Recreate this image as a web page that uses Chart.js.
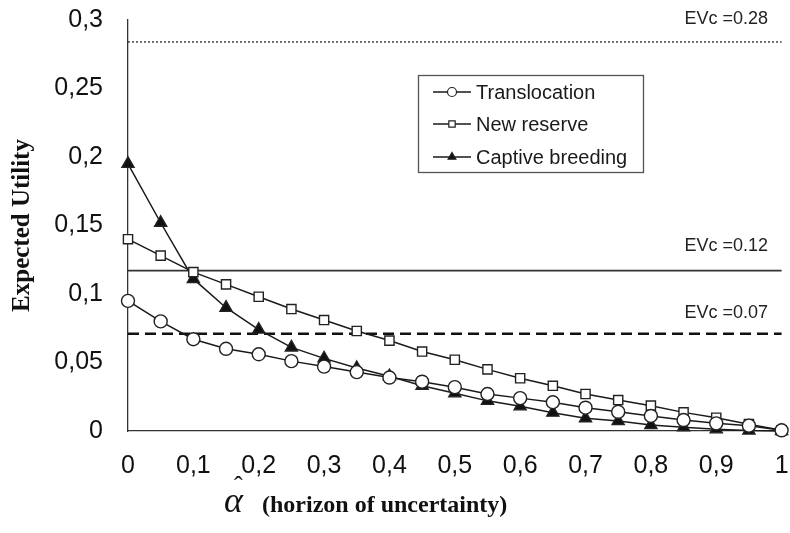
<!DOCTYPE html>
<html>
<head>
<meta charset="utf-8">
<script src="https://cdn.jsdelivr.net/npm/chart.js@4/dist/chart.umd.min.js"></script>
<style>
  html, body { margin: 0; padding: 0; background: #fff; }
  #wrap { width: 790px; height: 533px; }
</style>
</head>
<body>
<div id="wrap"><canvas id="chart" width="790" height="533"></canvas></div>
<script>
// horizon of uncertainty (x)
const alphaValues = [0, 0.05, 0.1, 0.15, 0.2, 0.25, 0.3, 0.35, 0.4, 0.45, 0.5,
                     0.55, 0.6, 0.65, 0.7, 0.75, 0.8, 0.85, 0.9, 0.95, 1];

// expected utility for each action
const translocation   = [0.095, 0.080, 0.067, 0.060, 0.056, 0.051, 0.047, 0.043, 0.039, 0.036, 0.032,
                         0.027, 0.024, 0.021, 0.017, 0.014, 0.011, 0.008, 0.0056, 0.0039, 0.0005];
const newReserve      = [0.140, 0.128, 0.116, 0.107, 0.098, 0.089, 0.081, 0.073, 0.066, 0.058, 0.052,
                         0.045, 0.0385, 0.033, 0.027, 0.0226, 0.0185, 0.0136, 0.0097, 0.005, 0.0005];
const captiveBreeding = [0.195, 0.152, 0.111, 0.090, 0.074, 0.061, 0.053, 0.046, 0.040, 0.033, 0.0275,
                         0.022, 0.018, 0.0134, 0.0093, 0.0073, 0.0044, 0.0027, 0.0012, 0.0003, 0];

// EVc threshold lines
const evcValues = [0.284, 0.117, 0.071];
const evcLabels = ['EVc =0.28', 'EVc =0.12', 'EVc =0.07'];

const seriesNames = ['Translocation', 'New reserve', 'Captive breeding'];

const lineColor = '#1a1a1a';
const toPoints = (arr) => arr.map((v, i) => ({ x: alphaValues[i], y: v }));
const comma = (v) => String(Math.round(v * 100) / 100).replace('.', ',');

// series datasets
const seriesSets = [
  { label: seriesNames[0], data: toPoints(translocation), pointStyle: 'circle', pointRadius: 6.5,
    pointBackgroundColor: '#fff' },
  { label: seriesNames[1], data: toPoints(newReserve), pointStyle: 'rect', pointRadius: 6.5,
    pointBackgroundColor: '#fff' },
  { label: seriesNames[2], data: toPoints(captiveBreeding), pointStyle: 'triangle', pointRadius: 7,
    pointBackgroundColor: '#111' }
].map(d => Object.assign({
  borderColor: lineColor, borderWidth: 1.5, pointBorderColor: '#222', pointBorderWidth: 1.4,
  clip: false, order: 1
}, d));

// threshold datasets (dotted / solid / dashed)
const evcStyles = [
  { borderDash: [2, 2], borderWidth: 1.5, borderColor: '#444' },
  { borderDash: [], borderWidth: 1.8, borderColor: '#333' },
  { borderDash: [11, 6], borderWidth: 2.5, borderColor: '#111' }
];
const evcSets = evcValues.map((v, i) => Object.assign({
  label: evcLabels[i],
  data: [{ x: 0, y: v }, { x: 1, y: v }],
  pointRadius: 0, clip: false, order: 2
}, evcStyles[i]));

// texts drawn on top: EVc labels, legend box, x title
const overlay = {
  id: 'overlay',
  afterDraw(chart) {
    const ctx = chart.ctx;
    const ys = chart.scales.y;
    ctx.save();

    // EVc labels
    ctx.fillStyle = '#222';
    ctx.font = '18px "Liberation Sans", Arial, sans-serif';
    ctx.textAlign = 'right';
    ctx.textBaseline = 'middle';
    const labelOffset = [-23, -25, -21];
    evcValues.forEach((v, i) => {
      ctx.fillText(evcLabels[i], 768, ys.getPixelForValue(v) + labelOffset[i]);
    });

    // legend
    ctx.strokeStyle = '#555';
    ctx.lineWidth = 1.3;
    ctx.strokeRect(418.5, 75.5, 225, 97);
    const rowY = [92, 124, 157];
    seriesSets.forEach((ds, i) => {
      ctx.strokeStyle = lineColor;
      ctx.lineWidth = 1.5;
      ctx.beginPath();
      ctx.moveTo(433, rowY[i]);
      ctx.lineTo(471, rowY[i]);
      ctx.stroke();
      ctx.fillStyle = ds.pointBackgroundColor;
      ctx.strokeStyle = '#222';
      ctx.lineWidth = 1.2;
      Chart.helpers.drawPoint(ctx, { pointStyle: ds.pointStyle, radius: 4.5, rotation: 0, borderWidth: 1.2 },
        452, rowY[i]);
      ctx.fillStyle = '#1a1a1a';
      ctx.font = '20px "Liberation Sans", Arial, sans-serif';
      ctx.textAlign = 'left';
      ctx.fillText(ds.label, 476, rowY[i] + 1);
    });

    // x axis title: alpha hat + text
    ctx.fillStyle = '#111';
    ctx.textAlign = 'left';
    ctx.textBaseline = 'alphabetic';
    ctx.font = 'italic 36px "Liberation Serif", "DejaVu Serif", serif';
    ctx.fillText('α', 224, 512);
    ctx.font = '26px "Liberation Serif", serif';
    ctx.fillText('ˆ', 234, 494);
    ctx.font = 'bold 24px "Liberation Serif", "DejaVu Serif", serif';
    ctx.fillText('(horizon of uncertainty)', 262, 512);
    ctx.restore();
  }
};

const config = {
  type: 'line',
  data: { datasets: [...seriesSets, ...evcSets] },
  options: {
    responsive: false,
    animation: false,
    layout: { padding: { top: 20, right: 6, left: 0, bottom: 0 } },
    plugins: { legend: { display: false }, tooltip: { enabled: false } },
    scales: {
      x: {
        type: 'linear', min: 0, max: 1,
        afterFit: (s) => { s.height = 102; s.paddingLeft = 0; s.paddingRight = 0; },
        grid: { display: false, drawOnChartArea: false, tickLength: 7, color: '#333' },
        border: { color: '#333', width: 1.3 },
        ticks: {
          stepSize: 0.1, padding: 13, color: '#111', maxRotation: 0,
          font: { size: 25, family: '"Liberation Sans", Arial, sans-serif' },
          callback: (v) => comma(v)
        }
      },
      y: {
        min: 0, max: 0.3,
        afterFit: (s) => { s.width = 128; s.paddingTop = 0; s.paddingBottom = 0; },
        grid: { display: false, drawOnChartArea: false, tickLength: 7, color: '#333' },
        border: { color: '#333', width: 1.3 },
        title: {
          display: true, text: 'Expected Utility', color: '#111',
          font: { size: 25, weight: 'bold', family: '"Liberation Serif", "DejaVu Serif", serif' },
          padding: { top: 8, bottom: 0 }
        },
        ticks: {
          stepSize: 0.05, padding: 18, color: '#111',
          font: { size: 25, family: '"Liberation Sans", Arial, sans-serif' },
          callback: (v) => comma(v)
        }
      }
    }
  },
  plugins: [overlay]
};

new Chart(document.getElementById('chart').getContext('2d'), config);
</script>
</body>
</html>
